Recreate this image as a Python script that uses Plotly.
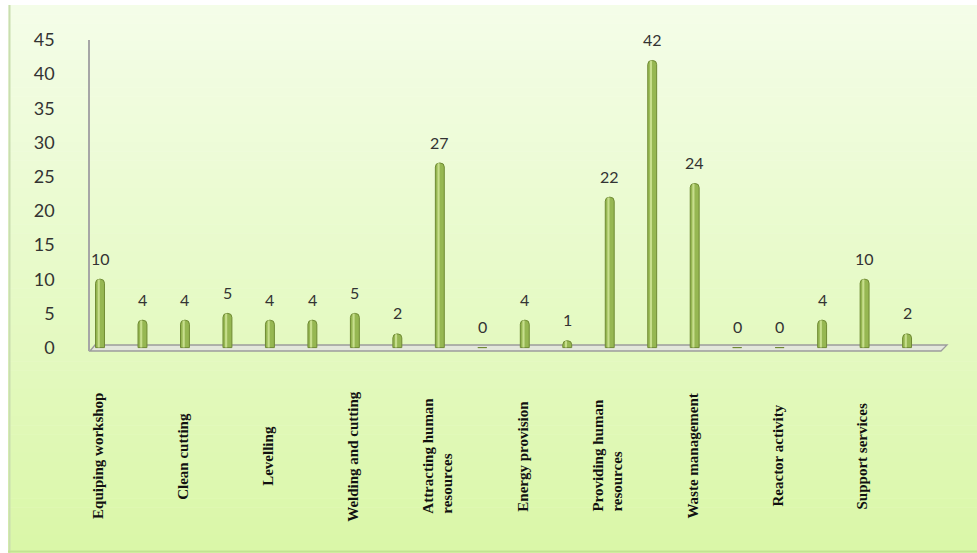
import plotly.graph_objects as go

# ---------------- data ----------------
values = [10, 4, 4, 5, 4, 4, 5, 2, 27, 0, 4, 1, 22, 42, 24, 0, 0, 4, 10, 2]
positions = list(range(len(values)))
category_labels = [
    "Equiping workshop", "", "Clean cutting", "", "Levelling", "",
    "Welding and cutting", "", "Attracting human<br>resources", "",
    "Energy provision", "", "Providing human<br>resources", "",
    "Waste management", "", "Reactor activity", "", "Support services", "",
]
y_ticks = [0, 5, 10, 15, 20, 25, 30, 35, 40, 45]

# ---------------- geometry helpers (pixel -> paper) ----------------
W, H = 977, 553
L, R, T, B = 90, 30, 40, 202
PW, PH = W - L - R, H - T - B


def px(x):
    return (x - L) / PW


def py(y):
    return (H - B - y) / PH


fig = go.Figure()

# main bars
fig.add_trace(go.Bar(
    x=positions, y=values,
    width=0.21,
    marker=dict(color="#96b752", line=dict(color="#6f8a33", width=1), cornerradius=4),
    hoverinfo="skip",
))
# highlight to give a cylinder look
fig.add_trace(go.Bar(
    x=positions, y=values,
    width=0.05, offset=-0.055,
    marker=dict(color="rgba(215,235,160,0.75)", line=dict(width=0), cornerradius=2),
    hoverinfo="skip",
))

shapes = []
# gradient background
N = 60
top_c = (244, 253, 232)
bot_c = (218, 247, 168)
y0p, y1p = 5, H
for i in range(N):
    a = y0p + (y1p - y0p) * i / N
    b = y0p + (y1p - y0p) * (i + 1) / N
    t = i / (N - 1)
    c = tuple(round(top_c[k] + (bot_c[k] - top_c[k]) * t) for k in range(3))
    shapes.append(dict(type="rect", xref="paper", yref="paper", layer="below",
                       x0=px(8), x1=px(W), y0=py(b + 0.5), y1=py(a),
                       fillcolor="rgb(%d,%d,%d)" % c, line=dict(width=0)))
# left border line and bottom border
shapes.append(dict(type="line", xref="paper", yref="paper", layer="below",
                   x0=px(9.5), x1=px(9.5), y0=py(5), y1=py(H),
                   line=dict(color="#c9deb0", width=2)))
shapes.append(dict(type="line", xref="paper", yref="paper", layer="below",
                   x0=px(8), x1=px(W), y0=py(551.5), y1=py(551.5),
                   line=dict(color="#c3e393", width=2)))
# 3D floor
shapes.append(dict(type="path", xref="paper", yref="paper", layer="below",
                   path="M %f,%f L %f,%f L %f,%f L %f,%f Z" % (
                       px(90), py(351), px(95), py(345), px(947), py(345), px(941), py(351)),
                   fillcolor="#e3e7dc", line=dict(color="#9c9c9c", width=1.3)))

annotations = []
# value labels
for x, v in zip(positions, values):
    annotations.append(dict(x=x, y=v, xref="x", yref="y", text=str(v), showarrow=False,
                            yshift=21, yanchor="middle", xanchor="center",
                            font=dict(family="Lato", size=16, color="#333333")))
# category labels (rotated)
for x, lab in zip(positions, category_labels):
    if not lab:
        continue
    annotations.append(dict(x=x - 0.05, y=py(456), xref="x", yref="paper", text="<b>%s</b>" % lab,
                            showarrow=False, textangle=-90, align="left",
                            xanchor="center", yanchor="middle",
                            font=dict(family="Liberation Serif", size=15, color="#111111")))

fig.update_layout(
    width=W, height=H, autosize=False,
    margin=dict(l=L, r=R, t=T, b=B, pad=0),
    paper_bgcolor="white", plot_bgcolor="rgba(0,0,0,0)",
    barmode="overlay", showlegend=False,
    shapes=shapes, annotations=annotations,
    xaxis=dict(range=[-0.2355, 19.94], showticklabels=False, showgrid=False,
               zeroline=False, showline=False, ticks=""),
    yaxis=dict(range=[-0.5, 45], tickvals=y_ticks, ticktext=[str(t) for t in y_ticks],
               showgrid=False, zeroline=False, showline=True, linecolor="#a6a6a6",
               linewidth=1.5, ticks="", ticklabelstandoff=30,
               tickfont=dict(family="Lato", size=18, color="#333333")),
)

fig.write_html("out.html")
